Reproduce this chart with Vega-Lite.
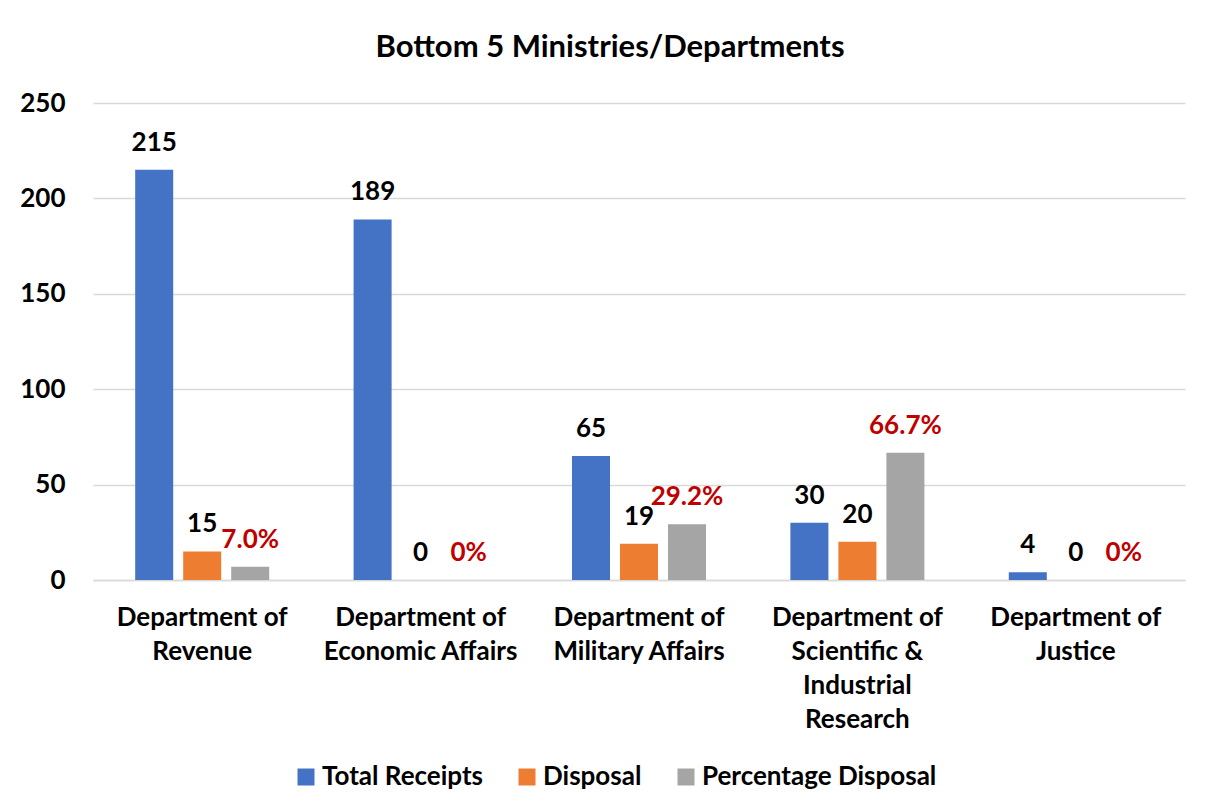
{
  "$schema": "https://vega.github.io/schema/vega-lite/v6.json",
  "width": 1092,
  "height": 477,
  "autosize": {"type": "none"},
  "padding": {"left": 93, "top": 103, "right": 25, "bottom": 231},
  "background": "white",
  "title": {"text": "Bottom 5 Ministries/Departments", "font": "Lato", "fontSize": 31, "fontWeight": "bold", "color": "black", "anchor": "middle", "frame": "group", "dx": -29, "baseline": "alphabetic", "offset": 2},
  "config": {"view": {"stroke": null}, "font": "Lato"},
  "data": {"values": [
    {"dept": "Department of Revenue", "series": "Total Receipts", "value": 215, "label": "215"},
    {"dept": "Department of Revenue", "series": "Disposal", "value": 15, "label": "15"},
    {"dept": "Department of Revenue", "series": "Percentage Disposal", "value": 7.0, "label": "7.0%"},
    {"dept": "Department of Economic Affairs", "series": "Total Receipts", "value": 189, "label": "189"},
    {"dept": "Department of Economic Affairs", "series": "Disposal", "value": 0, "label": "0"},
    {"dept": "Department of Economic Affairs", "series": "Percentage Disposal", "value": 0, "label": "0%"},
    {"dept": "Department of Military Affairs", "series": "Total Receipts", "value": 65, "label": "65"},
    {"dept": "Department of Military Affairs", "series": "Disposal", "value": 19, "label": "19"},
    {"dept": "Department of Military Affairs", "series": "Percentage Disposal", "value": 29.2, "label": "29.2%"},
    {"dept": "Department of Scientific & Industrial Research", "series": "Total Receipts", "value": 30, "label": "30"},
    {"dept": "Department of Scientific & Industrial Research", "series": "Disposal", "value": 20, "label": "20"},
    {"dept": "Department of Scientific & Industrial Research", "series": "Percentage Disposal", "value": 66.7, "label": "66.7%"},
    {"dept": "Department of Justice", "series": "Total Receipts", "value": 4, "label": "4"},
    {"dept": "Department of Justice", "series": "Disposal", "value": 0, "label": "0"},
    {"dept": "Department of Justice", "series": "Percentage Disposal", "value": 0, "label": "0%"}
  ]},
  "encoding": {
    "x": {
      "field": "dept", "type": "nominal", "sort": null,
      "scale": {"paddingInner": 0, "paddingOuter": 0},
      "axis": {
        "title": null, "labelAngle": 0, "domain": true, "domainColor": "#D9D9D9", "domainWidth": 1.5,
        "ticks": false, "labelFont": "Lato", "labelFontSize": 26, "labelFontWeight": "bold", "labelColor": "black",
        "labelLineHeight": 34, "labelPadding": 24, "labelLimit": 0,
        "labelExpr": "datum.value == 'Department of Scientific & Industrial Research' ? ['Department of', 'Scientific &', 'Industrial', 'Research'] : ['Department of', replace(datum.value, 'Department of ', '')]"
      }
    },
    "xOffset": {"field": "series", "type": "nominal", "sort": ["Total Receipts", "Disposal", "Percentage Disposal"], "scale": {"paddingInner": 0.208, "paddingOuter": 0.879}},
    "y": {
      "field": "value", "type": "quantitative",
      "scale": {"domain": [0, 250], "nice": false},
      "axis": {
        "title": null, "values": [0, 50, 100, 150, 200, 250], "grid": true, "gridColor": "#D9D9D9", "gridWidth": 1.5,
        "domain": false, "ticks": false, "labelFont": "Lato", "labelFontSize": 26, "labelFontWeight": "bold",
        "labelColor": "black", "labelPadding": 28
      }
    }
  },
  "layer": [
    {
      "mark": {"type": "bar"},
      "encoding": {
        "color": {
          "field": "series", "type": "nominal",
          "scale": {"domain": ["Total Receipts", "Disposal", "Percentage Disposal"], "range": ["#4472C4", "#ED7D31", "#A5A5A5"]},
          "legend": {
            "title": null, "orient": "none", "legendX": 200, "legendY": 661, "direction": "horizontal",
            "symbolType": "square", "symbolSize": 289, "symbolStrokeWidth": 0, "symbolOpacity": 1,
            "labelFont": "Lato", "labelFontSize": 26, "labelFontWeight": "bold", "labelColor": "black",
            "labelOffset": 3, "columnPadding": 31, "padding": 0, "labelLimit": 0
          }
        }
      }
    },
    {
      "mark": {"type": "text", "dy": -19, "baseline": "alphabetic", "font": "Lato", "fontSize": 26, "fontWeight": "bold"},
      "encoding": {
        "text": {"field": "label", "type": "nominal"},
        "color": {"condition": {"test": "datum.series === 'Percentage Disposal'", "value": "#C00000"}, "value": "black"}
      }
    }
  ]
}
